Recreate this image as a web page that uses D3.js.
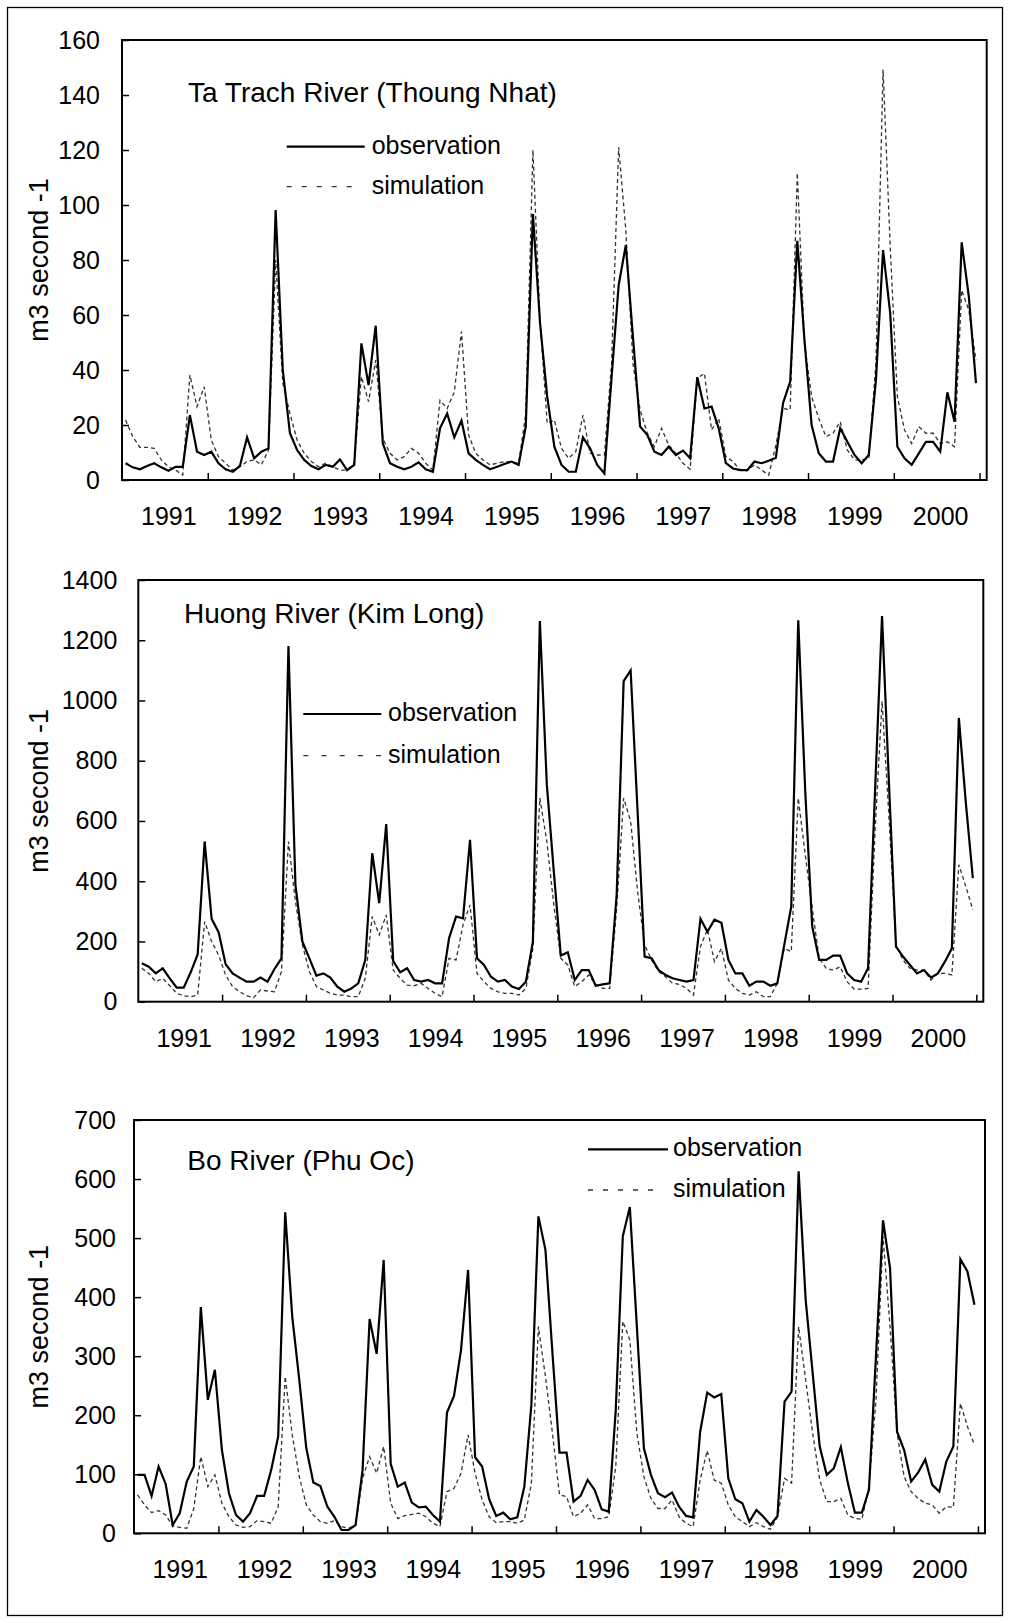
<!DOCTYPE html>
<html>
<head>
<meta charset="utf-8">
<script src="https://cdn.jsdelivr.net/npm/d3@7/dist/d3.min.js"></script>
<style>
  html, body { margin: 0; padding: 0; background: #fff; }
  svg { display: block; font-family: "Liberation Sans", Arial, sans-serif; }
</style>
</head>
<body>
<svg id="chart" width="1010" height="1623"></svg>
<script>
// ---- data: monthly mean discharge, Jan 1991 .. Dec 2000 ----
const years = ["1991", "1992", "1993", "1994", "1995", "1996", "1997", "1998", "1999", "2000"];
const seriesNames = ["observation", "simulation"];
const yAxisTitle = "m3 second -1";

const taTrachTicks = [0, 20, 40, 60, 80, 100, 120, 140, 160];
const huongTicks = [0, 200, 400, 600, 800, 1000, 1200, 1400];
const boTicks = [0, 100, 200, 300, 400, 500, 600, 700];

const taTrachObs = [
  6.1, 4.6, 3.9, 5.1, 6.1, 4.6, 3.4, 4.8, 4.8, 23.6, 10.3, 9.1,
  10.3, 6.1, 3.9, 3.0, 5.1, 15.5, 7.9, 10.3, 11.5, 98.2, 40, 17,
  10.9, 7.3, 5.1, 3.9, 5.5, 4.8, 7.5, 3.6, 5.5, 49.7, 34.5, 56.1,
  13.3, 6.1, 4.8, 3.9, 4.8, 6.4, 3.9, 3.0, 18.8, 24.2, 15.5, 21.6,
  9.7, 7.3, 5.5, 3.9, 4.8, 5.8, 6.7, 5.5, 19.4, 96.7, 57, 30.3,
  12.1, 5.5, 3.0, 3.0, 15.5, 11.5, 5.5, 2.4, 37, 70.9, 85.4, 52,
  19.4, 16.4, 10.3, 9.1, 12.1, 9.1, 10.7, 7.9, 37.4, 26, 26.7, 18.8,
  6.1, 4.2, 3.6, 3.6, 6.7, 6.1, 7, 8.1, 27.9, 35.8, 87, 50.9,
  20, 9.7, 6.7, 6.7, 18.8, 13.9, 9.1, 6.1, 9.1, 36.4, 83.6, 60.6,
  12.1, 7.9, 5.5, 9.7, 13.9, 13.9, 10.3, 31.9, 21.2, 86.4, 66.7, 35.2
];
const taTrachSim = [
  21.8, 15.8, 11.9, 11.9, 11.5, 7.3, 4.8, 3.6, 1.8, 38.2, 26.7, 33.9,
  14.5, 8.5, 6.1, 3.6, 4.8, 6.7, 7.3, 5.5, 10.9, 80, 35.2, 24.2,
  14.5, 9.7, 6.7, 4.8, 6.1, 4.8, 3.6, 3.6, 6.1, 37.6, 28.5, 43.6,
  15.2, 9.7, 7.3, 8.5, 11.5, 9.7, 6.1, 3.6, 29, 26, 32, 54,
  16.4, 9.7, 7.3, 5.5, 6.1, 6.7, 6.7, 6.1, 24, 120, 58, 20.6,
  21.8, 11.5, 7.9, 10.3, 23.6, 9.7, 9.1, 9.1, 42, 121, 91, 42.4,
  25.5, 17, 12.1, 18.8, 12.7, 9.7, 6.1, 3.9, 37, 38.8, 18.2, 22.4,
  8.5, 6.7, 3.6, 3.4, 5.5, 3.6, 1.8, 12.7, 26, 25.5, 111.7, 49.7,
  30.3, 22.4, 15.8, 17, 21.2, 10.9, 7.3, 7.3, 7.9, 42.4, 149.3, 84.8,
  30.3, 18.2, 13.3, 19.4, 17, 17, 13.3, 13.9, 12.1, 69, 61.8, 43.6
];

const huongObs = [
  127.5, 116, 94, 111, 77.6, 46.6, 46.6, 97.6, 157, 532, 275, 230.6,
  125, 94, 80, 66.5, 66.5, 80, 66.5, 108.6, 144, 1181, 388, 199.5,
  144, 86.5, 94, 80, 50, 33, 44, 61, 138.6, 493, 327, 590,
  135, 97.6, 111, 72, 66.5, 72, 61, 61, 210.6, 282.7, 277, 537.7,
  144, 122, 83, 66.5, 72, 50, 42, 66.5, 199.5, 1264, 720.6, 432,
  153, 164, 72, 105, 105, 53, 57.6, 61, 355, 1064, 1100, 630,
  150, 144, 105, 88.7, 77.6, 72, 66.5, 72, 275, 232, 272, 262,
  138.6, 94, 94, 53, 66.5, 66.5, 53, 61, 188.5, 316, 1266, 700,
  250, 138.6, 138.6, 153, 153, 94, 72, 66.5, 111, 700, 1280, 720,
  183, 150, 122, 94, 105, 80, 94, 133, 177, 942, 660, 410
];
const huongSim = [
  111, 94, 66.5, 77.6, 53, 27.7, 20, 16.6, 22, 266, 199.5, 155,
  88.7, 50, 33, 20, 13.3, 38.8, 35.5, 33, 100, 532, 332.6, 188.5,
  100, 50, 38.8, 27.7, 22, 22, 16.6, 16.6, 77.6, 282.7, 221.7, 288,
  105, 77.6, 55, 53, 61, 44, 27.7, 16.6, 144, 138.6, 255, 321.5,
  94, 66.5, 44, 33, 27.7, 27.7, 22, 44, 177, 676, 532, 321.5,
  144, 122, 50, 66.5, 88.7, 57.6, 44, 44, 310, 676, 598.6, 365.8,
  188.5, 138.6, 100, 83, 61, 57.6, 44, 22, 183, 240, 133, 177,
  72, 44, 27.7, 22, 33, 16.6, 16.6, 61, 177, 166, 676, 488,
  310, 144, 111, 105, 116, 66.5, 42, 42, 44, 565, 998, 610,
  188.5, 138.6, 111, 105, 105, 72, 94, 94, 88.7, 454.5, 382.5, 305
];

const boObs = [
  98.9, 98.9, 63.3, 113, 83.6, 14.1, 33.9, 87.6, 113, 383, 226, 277,
  141, 67.8, 31, 19.8, 33.9, 63.3, 63.3, 107, 164, 543.5, 367, 260,
  144, 86, 80, 45, 28, 5.6, 5.6, 14, 107, 363, 304, 463,
  117.5, 79, 86, 52, 44, 45, 31, 19.8, 204.5, 232.8, 310.8, 446,
  128.8, 113, 57.6, 29.4, 35, 23.7, 27, 79, 217.5, 536.8, 480, 305,
  136.7, 136.7, 53.7, 63.3, 90.4, 73.5, 40.7, 36.7, 209, 503, 552.6, 350,
  144, 99, 67.8, 61, 69, 45, 29.4, 27, 172, 238.4, 230, 236,
  93, 57.6, 51, 19.8, 39.6, 28, 14, 29.4, 223, 240, 613, 395.5,
  271, 147, 99, 110, 146, 85, 35, 35, 73.5, 300, 530, 449,
  172, 141, 87.6, 103, 125, 82, 70.6, 121.5, 147, 464.4, 443.5, 387
];
const boSim = [
  65, 48, 35, 38.4, 31, 12.4, 10, 8.5, 42, 130, 79, 99,
  51, 28, 14, 10, 11.3, 21.5, 19.8, 17, 45, 265.6, 166.7, 96,
  48, 31, 19.8, 17, 21.5, 11.3, 8.5, 14, 93, 130, 101.7, 147,
  51, 25, 30, 32, 34, 28, 17, 11.3, 70.6, 76.3, 101.7, 166.7,
  101.7, 56.5, 28, 18, 19.8, 19.8, 17, 22.6, 84.8, 350, 265.6, 169.5,
  65, 62, 28, 34, 48, 25, 25, 28, 113, 359, 327.7, 169.5,
  96, 59, 42, 42, 56.5, 28, 17, 11.3, 90.4, 140, 90, 85,
  48, 28, 19.8, 11.3, 18, 11.3, 6.8, 28, 93, 85, 350, 260,
  169.5, 90.4, 53.7, 53.7, 59, 31, 25, 23.7, 79, 226, 503, 350,
  169.5, 96, 70.6, 59, 51, 48, 34, 45, 44, 220, 181, 150
];

// ---- layout of the three stacked panels ----
const panels = [
  {
    title: "Ta Trach River (Thoung Nhat)", obs: taTrachObs, sim: taTrachSim, ticks: taTrachTicks,
    box: { l: 122, r: 986.7, t: 40, b: 480 }, labelGap: 22,
    titleAt: [188, 101.7],
    legend: { x: 286.7, textX: 371.7, y1: 146.7, y2: 186.7, solidLen: 78, dashLen: 65, dash: "5,10" }
  },
  {
    title: "Huong River (Kim Long)", obs: huongObs, sim: huongSim, ticks: huongTicks,
    box: { l: 138.3, r: 983.3, t: 580, b: 1001.7 }, labelGap: 21,
    titleAt: [184, 623],
    legend: { x: 303.3, textX: 388, y1: 714, y2: 755.7, solidLen: 78, dashLen: 78, dash: "5,13.2" }
  },
  {
    title: "Bo River (Phu Oc)", obs: boObs, sim: boSim, ticks: boTicks,
    box: { l: 134, r: 985, t: 1120, b: 1533.3 }, labelGap: 18,
    titleAt: [187.3, 1170],
    legend: { x: 588, textX: 673, y1: 1149.3, y2: 1190, solidLen: 80, dashLen: 65, dash: "5,10" }
  }
];

const svg = d3.select("#chart");
const FONT = 25;

// outer frame around the whole figure
svg.append("rect")
  .attr("x", 7.5).attr("y", 7.5)
  .attr("width", 995).attr("height", 1608)
  .attr("fill", "none").attr("stroke", "#000").attr("stroke-width", 1.3);

const nMonths = years.length * 12;

panels.forEach(p => {
  const g = svg.append("g");
  const { l, r, t, b } = p.box;

  // one extra empty category slot at the end of the axis
  const x = d3.scaleLinear().domain([0, nMonths + 1]).range([l, r]);
  const y = d3.scaleLinear().domain([0, d3.max(p.ticks)]).range([b, t]);

  // y axis: inward ticks, labels on the left
  const ya = g.append("g")
    .attr("transform", `translate(${l},0)`)
    .call(d3.axisLeft(y).tickValues(p.ticks).tickFormat(d3.format("d"))
      .tickSize(-7).tickPadding(p.labelGap));
  ya.select(".domain").remove();
  ya.attr("font-size", FONT).attr("font-family", null);
  ya.selectAll(".tick line").attr("stroke", "#000").attr("stroke-width", 1.5);
  ya.selectAll(".tick text").attr("fill", "#000");

  // x axis: inward tick marks at year boundaries
  const xa = g.append("g")
    .attr("transform", `translate(0,${b})`)
    .call(d3.axisBottom(x).tickValues(d3.range(1, years.length + 1).map(k => k * 12))
      .tickSize(-7).tickFormat(""));
  xa.select(".domain").remove();
  xa.selectAll(".tick line").attr("stroke", "#000").attr("stroke-width", 1.5);

  // year labels centred under each year
  g.selectAll("text.year").data(years).join("text")
    .attr("class", "year")
    .attr("x", (d, k) => x(k * 12 + 6) + 4)
    .attr("y", b + 45)
    .attr("text-anchor", "middle")
    .attr("font-size", FONT)
    .attr("fill", "#000")
    .text(d => d);

  const line = d3.line().x((d, i) => x(i + 0.5)).y(d => y(d));

  // simulated discharge (dashed)
  g.append("path").datum(p.sim)
    .attr("d", line)
    .attr("fill", "none").attr("stroke", "#333")
    .attr("stroke-width", 1.3).attr("stroke-dasharray", "4,3");

  // observed discharge (solid)
  g.append("path").datum(p.obs)
    .attr("d", line)
    .attr("fill", "none").attr("stroke", "#000")
    .attr("stroke-width", 2.2);

  // plot frame
  g.append("rect")
    .attr("x", l).attr("y", t)
    .attr("width", r - l).attr("height", b - t)
    .attr("fill", "none").attr("stroke", "#000").attr("stroke-width", 2);

  // station title
  g.append("text")
    .attr("x", p.titleAt[0]).attr("y", p.titleAt[1])
    .attr("font-size", 28).attr("fill", "#000")
    .text(p.title);

  // legend
  const lg = p.legend;
  g.append("line")
    .attr("x1", lg.x).attr("x2", lg.x + lg.solidLen)
    .attr("y1", lg.y1).attr("y2", lg.y1)
    .attr("stroke", "#000").attr("stroke-width", 2.2);
  g.append("line")
    .attr("x1", lg.x).attr("x2", lg.x + lg.dashLen)
    .attr("y1", lg.y2).attr("y2", lg.y2)
    .attr("stroke", "#333").attr("stroke-width", 1.3)
    .attr("stroke-dasharray", lg.dash);
  g.selectAll("text.leg").data(seriesNames).join("text")
    .attr("class", "leg")
    .attr("x", lg.textX)
    .attr("y", (d, k) => (k === 0 ? lg.y1 : lg.y2) + 7)
    .attr("font-size", FONT).attr("fill", "#000")
    .text(d => d);

  // y axis title
  g.append("text")
    .attr("transform", `translate(39,${(t + b) / 2}) rotate(-90)`)
    .attr("text-anchor", "middle")
    .attr("dy", "0.35em")
    .attr("font-size", 27).attr("fill", "#000")
    .text(yAxisTitle);
});
</script>
</body>
</html>
